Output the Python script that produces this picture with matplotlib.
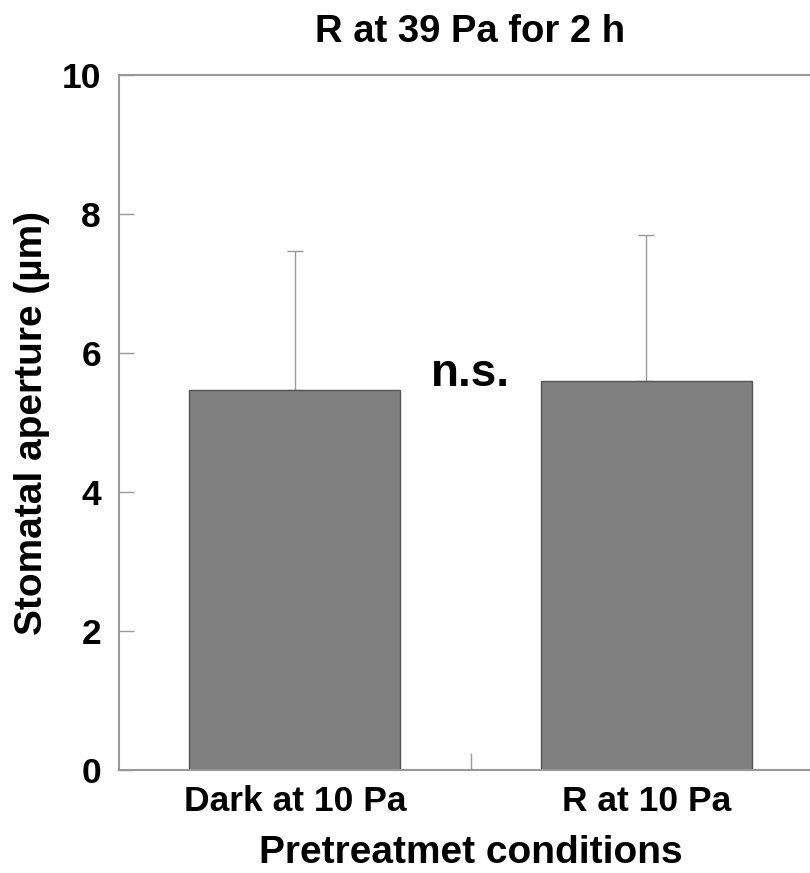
import matplotlib.pyplot as plt
import numpy as np

plt.rcParams['font.family'] = ['Liberation Sans', 'DejaVu Sans']
plt.rcParams['font.weight'] = 'bold'

# data
categories = ["Dark at 10 Pa", "R at 10 Pa"]
means = [5.47, 5.60]
errs = [2.00, 2.10]

fig = plt.figure(figsize=(8.1, 8.73), dpi=100)
ax = fig.add_axes([0.1469, 0.118, 0.868, 0.796])

x = np.arange(len(categories))
ax.bar(x, means, width=0.6, color='#808080', edgecolor='#555555', linewidth=1, zorder=2)
ax.errorbar(x, means, yerr=[np.zeros(len(errs)), errs], fmt='none',
            ecolor='#999999', elinewidth=1, capsize=6, capthick=1, zorder=1)

ax.set_xlim(-0.5, 1.5)
ax.set_ylim(0, 10)
ax.set_yticks([0, 2, 4, 6, 8, 10])
ax.set_xticks(x)
ax.set_xticklabels(categories)
ax.set_xticks([0.5], minor=True)
ax.tick_params(axis='x', which='major', length=0, labelsize=25.5, pad=11)
ax.tick_params(axis='x', which='minor', direction='in', length=12, color='#999999', width=1)
ax.tick_params(axis='y', direction='in', length=11, color='#999999', width=1, labelsize=25.5, pad=13)
for lab in ax.get_xticklabels() + ax.get_yticklabels():
    lab.set_fontweight('bold')

for s in ax.spines.values():
    s.set_color('#999999')
    s.set_linewidth(1.5)

ax.text(0.5, 5.7, 'n.s.', ha='center', va='center', fontsize=33, fontweight='bold')

ax.set_title('R at 39 Pa for 2 h', fontsize=27.5, fontweight='bold', pad=24)
ax.set_xlabel('Pretreatmet conditions', fontsize=28, fontweight='bold', labelpad=12)
ax.set_ylabel('Stomatal aperture (µm)', fontsize=28, fontweight='bold', labelpad=8)

fig.savefig('out.png', dpi=100)
